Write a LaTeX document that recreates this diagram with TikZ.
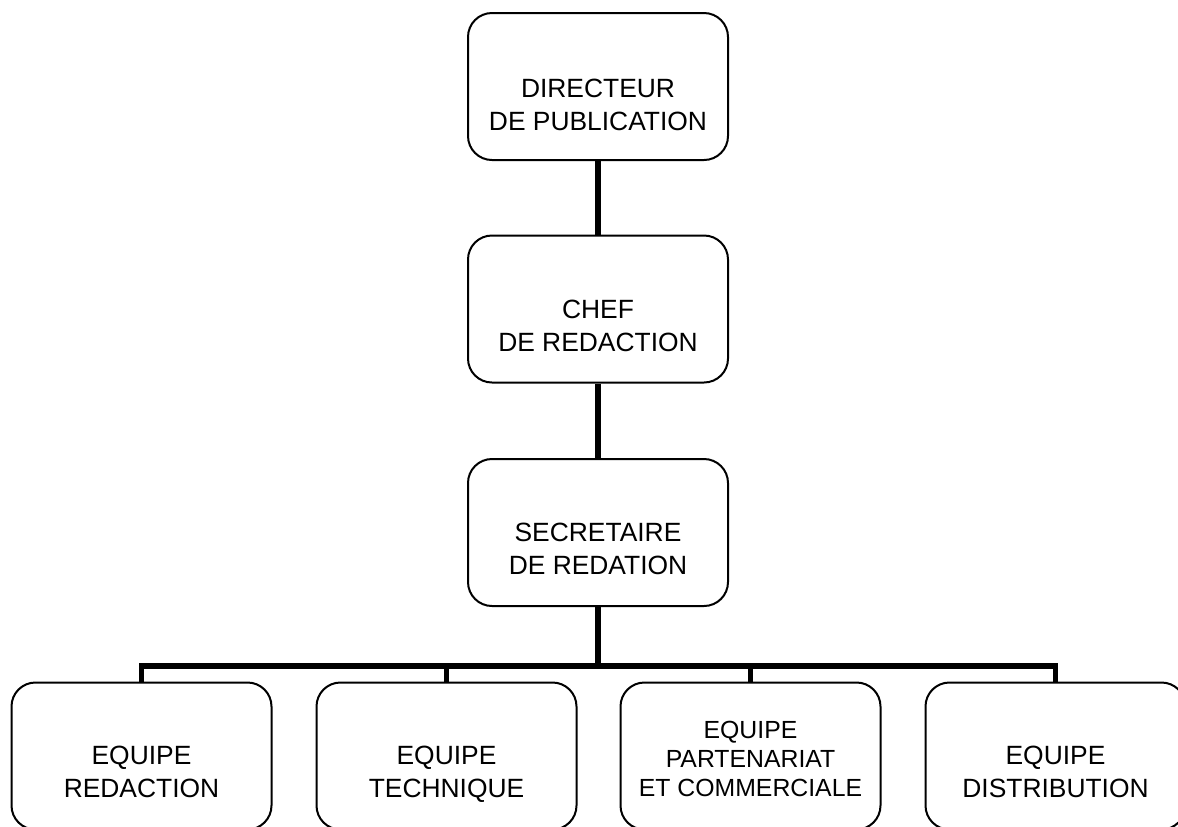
\documentclass[tikz,border=0pt]{standalone}
\usepackage{fontspec}
\setmainfont{Liberation Sans}
\usetikzlibrary{arrows.meta,calc}

\tikzset{
  boite/.style={draw, line width=1pt, rounded corners=12pt, minimum width=130pt, minimum height=73.5pt, inner sep=0pt},
  texte/.style={align=center, inner sep=0pt, text depth=0pt, font=\fontsize{13.2pt}{16.5pt}\selectfont},
  petit/.style={align=center, inner sep=0pt, text depth=0pt, font=\fontsize{12.4pt}{14.5pt}\selectfont},
  lien/.style={line width=2.8pt}
}

\begin{document}
\begin{tikzpicture}[x=0.5pt,y=-0.5pt]
\clip (0,0) rectangle (1178,826);
\node[boite] (dir) at (598,86.5) {};
\node[boite] (chef) at (598,309) {};
\node[boite] (sec) at (598,532.5) {};
\node[boite] (e1) at (141.5,756) {};
\node[boite] (e2) at (446.5,756) {};
\node[boite] (e3) at (750.5,756) {};
\node[boite] (e4) at (1055.5,756) {};
\node[texte] (dirT) at (598,104.5) {DIRECTEUR\\DE PUBLICATION};
\node[texte] (chefT) at (598,326) {CHEF\\DE REDACTION};
\node[texte] (secT) at (598,549) {SECRETAIRE\\DE REDATION};
\node[texte] (e1T) at (141.5,772) {EQUIPE\\REDACTION};
\node[texte] (e2T) at (446.5,772) {EQUIPE\\TECHNIQUE};
\node[petit] (e3T) at (750.5,758.5) {EQUIPE\\PARTENARIAT\\ET COMMERCIALE};
\node[texte] (e4T) at (1055.5,772) {EQUIPE\\DISTRIBUTION};
\coordinate (bus) at (598,666);
\draw[lien] (dir) -- (chef);
\draw[lien] (chef) -- (sec);
\draw[lien] (sec) -- (bus);
\draw[lien] (bus) -| (e1.north);
\draw[lien] (bus) -| (e4.north);
\draw[lien] (bus -| e2.north) -- (e2.north);
\draw[lien] (bus -| e3.north) -- (e3.north);
\end{tikzpicture}
\end{document}
